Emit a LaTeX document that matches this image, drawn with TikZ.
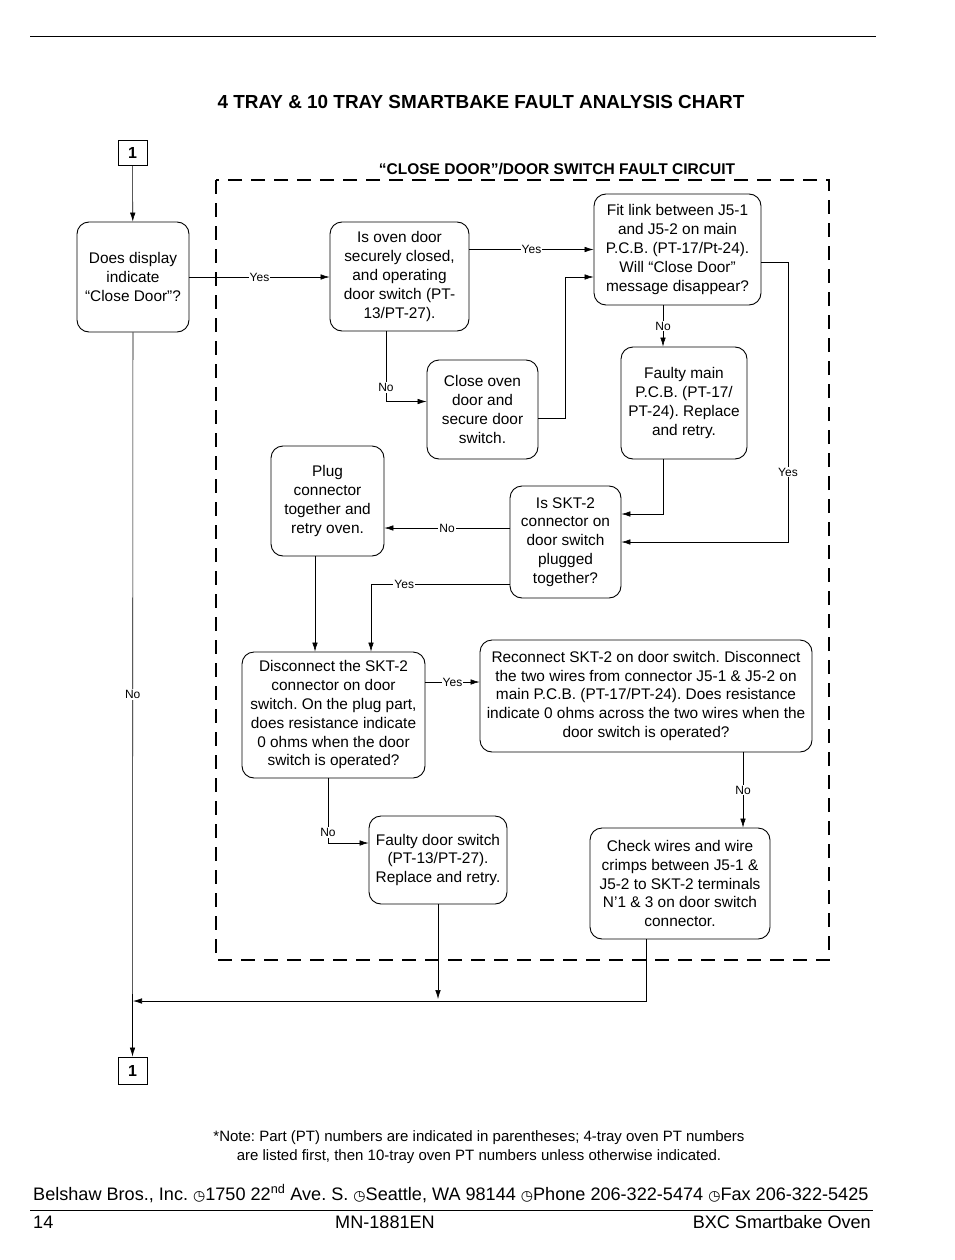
\documentclass[tikz,border=0pt]{standalone}
\usepackage{fontspec}
\setmainfont{Liberation Sans}
\newfontfamily\symfont{DejaVu Sans}
\usetikzlibrary{arrows.meta}
\frenchspacing

\begin{document}
\begin{tikzpicture}[x=1pt,y=-1pt]

  % Set up styles for the chart
  \tikzset{
      box/.style={draw, rounded corners=12pt, line width=0.9pt, align=center, inner sep=1pt,
                  font=\fontsize{15.4}{18.8}\selectfont},
      link/.style={draw, line width=0.9pt, inner sep=0pt, font=\bfseries\fontsize{16}{18}\selectfont},
      arr/.style={-{Latex[length=9pt,width=5.5pt]}, line width=0.6pt},
      lbl/.style={fill=white, inner sep=1pt, font=\fontsize{12}{13}\selectfont}
  }

  \useasboundingbox (0,0) rectangle (954,1260);

  % page rule and titles
  \draw[line width=0.8pt] (30,36) -- (876,36);
  \node[font=\bfseries\fontsize{18.9}{22}\selectfont] (title) at (481,102)
      {4 TRAY \& 10 TRAY SMARTBAKE FAULT ANALYSIS CHART};
  \node[font=\bfseries\fontsize{15.5}{17}\selectfont] (subtitle) at (557,169)
      {“CLOSE DOOR”/DOOR SWITCH FAULT CIRCUIT};

  % dashed frame of the circuit
  \draw[line width=2.6pt, dash pattern=on 14pt off 9pt] (216,180) rectangle (829,960);

  % connectors to other pages
  \node[link, minimum width=29pt, minimum height=25pt] (onetop) at (132.5,152.5) {1};
  \node[link, minimum width=29pt, minimum height=27pt] (onebot) at (132.5,1070.5) {1};

  % question and action boxes
  \node[box, minimum width=112pt, minimum height=110pt] (disp) at (133,277)
      {Does display\\indicate\\“Close Door”?};
  \node[box, minimum width=139pt, minimum height=109pt] (door) at (399.5,276.5)
      {Is oven door\\securely closed,\\and operating\\door switch (PT-\\13/PT-27).};
  \node[box, minimum width=167pt, minimum height=111pt] (link) at (677.5,249.5)
      {Fit link between J5-1\\and J5-2 on main\\P.C.B. (PT-17/Pt-24).\\Will “Close Door”\\message disappear?};
  \node[box, minimum width=111pt, minimum height=99pt] (close) at (482.5,409.5)
      {Close oven\\door and\\secure door\\switch.};
  \node[box, minimum width=126pt, minimum height=112pt] (pcb) at (684,403)
      {Faulty main\\P.C.B. (PT-17/\\PT-24). Replace\\and retry.};
  \node[box, minimum width=111pt, minimum height=112pt] (skt) at (565.5,542)
      {Is SKT-2\\connector on\\door switch\\plugged\\together?};
  \node[box, minimum width=113pt, minimum height=110pt] (plug) at (327.5,501)
      {Plug\\connector\\together and\\retry oven.};
  \node[box, minimum width=183pt, minimum height=126pt] (disc) at (333.5,715)
      {Disconnect the SKT-2\\connector on door\\switch. On the plug part,\\does resistance indicate\\0 ohms when the door\\switch is operated?};
  \node[box, minimum width=332pt, minimum height=112pt] (recon) at (646,696)
      {Reconnect SKT-2 on door switch. Disconnect\\the two wires from connector J5-1 \& J5-2 on\\main P.C.B. (PT-17/PT-24). Does resistance\\indicate 0 ohms across the two wires when the\\door switch is operated?};
  \node[box, minimum width=180pt, minimum height=111pt] (wires) at (680,883.5)
      {Check wires and wire\\crimps between J5-1 \&\\J5-2 to SKT-2 terminals\\N'1 \& 3 on door switch\\connector.};
  \node[box, minimum width=138pt, minimum height=88pt] (sw) at (438,860)
      {Faulty door switch\\(PT-13/PT-27).\\Replace and retry.};

  % helper points
  \coordinate (join) at (133,1001);
  \coordinate (rise) at (565,277);
  \coordinate (drop) at (788,262);
  \coordinate (down) at ([yshift=8pt]close.west);

  % connectors
  \draw[arr] (onetop) -- (disp);
  \draw[arr] (disp.east) -- node[lbl]{Yes} (disp.east -| door.west);
  \draw[arr] (disp) -- node[lbl]{No} (onebot);
  \draw[arr] (link.west -| door.east) -- node[lbl]{Yes} (link.west);
  \draw[arr] ([xshift=-13.5pt]door.south) |- node[lbl,pos=0.4]{No} (down);
  \draw[arr] ([yshift=-8.5pt]close.east) -| (rise) -- (rise -| link.west);
  \draw[arr] ([xshift=-14.5pt]link.south) -- node[lbl]{No} ([xshift=-14.5pt]link.south |- pcb.north);
  \draw[arr] ([xshift=-21pt]pcb.south) |- ([yshift=28pt]skt.east);
  \draw[arr] (link.east |- drop) -- (drop) -- node[lbl,pos=0.75]{Yes} (drop |- skt.east) -- (skt.east);
  \draw[arr] ([yshift=14pt]skt.west) -- node[lbl]{No} ([yshift=14pt]skt.west -| plug.east);
  \draw[arr] ([yshift=-42pt]skt.west) -| node[lbl,pos=0.38]{Yes} ([xshift=37.5pt]disc.north);
  \draw[arr] ([xshift=-12.5pt]plug.south) -- ([xshift=-12.5pt]plug.south |- disc.north);
  \draw[arr] ([yshift=33pt]disc.east) -- node[lbl]{Yes} ([yshift=33pt]disc.east -| recon.west);
  \draw[arr] ([xshift=97pt]recon.south) -- node[lbl]{No} ([xshift=97pt]recon.south |- wires.north);
  \draw[arr] ([xshift=-5.5pt]disc.south) |- node[lbl,pos=0.42]{No} ([yshift=17pt]sw.west);
  \draw[arr] (sw.south) -- ([yshift=2pt]sw.south |- join);
  \draw[arr] ([xshift=-34pt]wires.south) |- (join);

  % note and footer
  \node[align=center, font=\fontsize{15}{19}\selectfont] (note) at (479,1147.5)
      {*Note: Part (PT) numbers are indicated in parentheses; 4-tray oven PT numbers\\are listed first, then 10-tray oven PT numbers unless otherwise indicated.};
  \node[anchor=base west, inner sep=0pt, font=\fontsize{18.1}{20}\selectfont] (addr) at (33,1200)
      {Belshaw Bros., Inc. {\symfont\fontsize{14}{16}\selectfont ◷}1750 22\textsuperscript{nd} Ave. S. {\symfont\fontsize{14}{16}\selectfont ◷}Seattle, WA 98144 {\symfont\fontsize{14}{16}\selectfont ◷}Phone 206-322-5474 {\symfont\fontsize{14}{16}\selectfont ◷}Fax 206-322-5425};
  \draw[line width=0.8pt] (30,1210) -- (873,1210);
  \node[anchor=base west, inner sep=0pt, font=\fontsize{18.1}{20}\selectfont] (page) at (33,1228) {14};
  \node[anchor=base, inner sep=0pt, font=\fontsize{18.1}{20}\selectfont] (doc) at (385,1228) {MN-1881EN};
  \node[anchor=base east, inner sep=0pt, font=\fontsize{18.1}{20}\selectfont] (prod) at (871,1228) {BXC Smartbake Oven};

\end{tikzpicture}
\end{document}
